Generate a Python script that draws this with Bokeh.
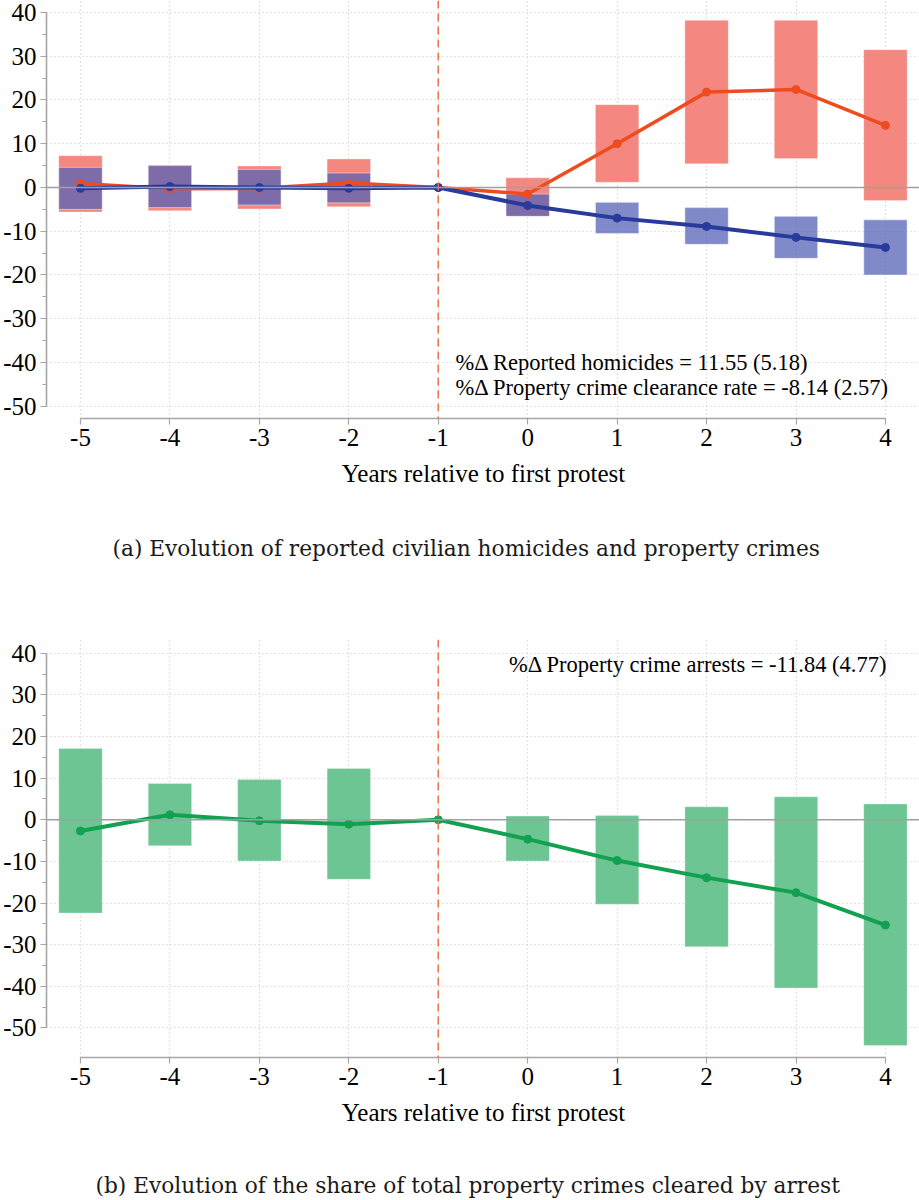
import numpy as np
from bokeh.plotting import figure
from bokeh.models import (ColumnDataSource, Span, Label, SingleIntervalTicker,
                          FixedTicker, Range1d, CustomJSTickFormatter)
from bokeh.layouts import column
from bokeh.embed import file_html
from bokeh.resources import INLINE

nan = float("nan")

# ---- data ----
years = [-5, -4, -3, -2, -1, 0, 1, 2, 3, 4]

hom = [0.9, -0.3, -0.2, 1.0, 0.0, -1.5, 10.0, 21.8, 22.4, 14.2]
hom_lo = [-5.6, -5.3, -4.9, -4.4, nan, -6.5, 1.2, 5.4, 6.6, -3.0]
hom_hi = [7.25, 5.1, 4.9, 6.5, nan, 2.2, 18.9, 38.2, 38.2, 31.5]

clr = [-0.2, 0.2, 0.0, -0.2, 0.0, -4.1, -7.0, -8.9, -11.4, -13.7]
clr_lo = [-5.0, -4.6, -4.0, -3.5, nan, -6.6, -10.5, -13.0, -16.2, -20.0]
clr_hi = [4.6, 5.0, 4.1, 3.3, nan, -1.5, -3.4, -4.6, -6.6, -7.4]

arr = [-2.7, 1.2, -0.25, -1.05, 0.0, -4.65, -9.8, -13.9, -17.5, -25.3]
arr_lo = [-22.4, -6.25, -9.9, -14.3, nan, -9.9, -20.3, -30.5, -40.4, -54.2]
arr_hi = [17.1, 8.7, 9.7, 12.3, nan, 0.9, 1.0, 3.1, 5.5, 3.8]

x_label = "Years relative to first protest"
caption_a = "(a) Evolution of reported civilian homicides and property crimes"
caption_b = "(b) Evolution of the share of total property crimes cleared by arrest"
note_a1 = "%\u0394 Reported homicides = 11.55 (5.18)"
note_a2 = "%\u0394 Property crime clearance rate = -8.14 (2.57)"
note_b = "%\u0394 Property crime arrests = -11.84 (4.77)"

FONT = "Liberation Serif"
CAP_FONT = "DejaVu Serif"
AX = "#a6a6a6"
FMT = CustomJSTickFormatter(code="return String(tick);")


def base_figure(y_start, y_end, frame_h, top_border):
    p = figure(frame_width=874, frame_height=frame_h, output_backend="svg",
               toolbar_location=None, x_range=Range1d(-5.380, 4.392),
               y_range=Range1d(y_start, y_end),
               min_border_left=45, min_border_right=0, min_border_top=top_border,
               min_border_bottom=80)
    p.outline_line_color = None
    p.background_fill_color = "white"
    p.border_fill_color = "white"

    p.xaxis.ticker = FixedTicker(ticks=years, minor_ticks=[])
    p.yaxis.ticker = SingleIntervalTicker(interval=10, num_minor_ticks=2)
    p.xaxis.formatter = FMT
    p.yaxis.formatter = FMT
    p.xaxis.bounds = (-5, 4)
    p.yaxis.bounds = (-50, 40)
    for ax in (p.xaxis, p.yaxis):
        ax.axis_line_color = AX
        ax.axis_line_width = 1.6
        ax.major_tick_line_color = AX
        ax.major_tick_line_width = 1.2
        ax.major_tick_out = 6
        ax.major_tick_in = 0
        ax.minor_tick_line_color = AX
        ax.minor_tick_line_width = 1.1
        ax.minor_tick_out = 4
        ax.minor_tick_in = 0
        ax.major_label_text_font = FONT
        ax.major_label_text_font_size = "25px"
        ax.major_label_text_color = "black"
    p.yaxis.major_label_standoff = 4
    p.xaxis.major_label_standoff = 4
    p.xaxis.axis_label = x_label
    p.xaxis.axis_label_text_font = FONT
    p.xaxis.axis_label_text_font_style = "normal"
    p.xaxis.axis_label_text_font_size = "25px"
    p.xaxis.axis_label_text_color = "black"
    p.xaxis.axis_label_standoff = 11

    p.xgrid.ticker = FixedTicker(ticks=years)
    p.ygrid.ticker = SingleIntervalTicker(interval=10)
    for g in (p.xgrid, p.ygrid):
        g.grid_line_color = "#c8c8c8"
        g.grid_line_dash = "1 3"
        g.grid_line_width = 1.2

    p.add_layout(Span(location=0, dimension="width", line_color="#a0a0a0", line_width=1.5))
    p.add_layout(Span(location=-1, dimension="height", line_color="#e8744c",
                      line_width=1.5, line_dash="8 5"))
    return p


def caption_figure(text, h, cap_x, cap_y):
    # frame aligned with the plots above (45 px left border); x in page pixels
    c = figure(frame_width=874, frame_height=h, output_backend="svg", toolbar_location=None,
               x_range=Range1d(45, 919), y_range=Range1d(0, h),
               x_axis_type=None, y_axis_type=None,
               min_border_left=45, min_border_right=0, min_border_top=0, min_border_bottom=0)
    c.outline_line_color = None
    c.xgrid.visible = False
    c.ygrid.visible = False
    c.add_layout(Label(x=cap_x, y=cap_y, text=text, text_font=CAP_FONT,
                       text_font_size="21.7px", text_baseline="middle",
                       text_align="left", text_color="#1a1a1a"))
    return c


# ---- panel (a) ----
pa = base_figure(-52.8, 42.74, 418, 0)
src_a = ColumnDataSource(dict(x=years, hom=hom, hom_lo=hom_lo, hom_hi=hom_hi,
                              clr=clr, clr_lo=clr_lo, clr_hi=clr_hi))
pa.vbar(x="x", width=0.485, bottom="hom_lo", top="hom_hi", source=src_a,
        fill_color="#f4877f", line_color="white", line_alpha=0.3)
pa.vbar(x="x", width=0.485, bottom="clr_lo", top="clr_hi", source=src_a,
        fill_color="#5563b5", fill_alpha=0.75, line_color="white", line_alpha=0.45)
pa.line("x", "hom", source=src_a, line_color="#ee4b1f", line_width=3.5)
pa.scatter("x", "hom", source=src_a, size=8, fill_color="#ee4b1f", line_color="#ee4b1f")
pa.line("x", "clr", source=src_a, line_color="#283a9c", line_width=4)
pa.scatter("x", "clr", source=src_a, size=8, fill_color="#283a9c", line_color="#283a9c")

pa.add_layout(Label(x=-0.807, y=-40.0, text=note_a1, text_font=FONT,
                    text_font_size="22.5px", text_baseline="middle", text_color="black"))
pa.add_layout(Label(x=-0.807, y=-45.7, text=note_a2, text_font=FONT,
                    text_font_size="22.5px", text_baseline="middle", text_color="black"))

cap_a = caption_figure(caption_a, 100, 111, 50)

# ---- panel (b) ----
pb = base_figure(-57.1, 43.3, 418, 41)
src_b = ColumnDataSource(dict(x=years, arr=arr, arr_lo=arr_lo, arr_hi=arr_hi))
pb.vbar(x="x", width=0.485, bottom="arr_lo", top="arr_hi", source=src_b,
        fill_color="#6dc594", line_color="white", line_alpha=0.3)
pb.line("x", "arr", source=src_b, line_color="#12a150", line_width=4)
pb.scatter("x", "arr", source=src_b, size=8, fill_color="#12a150", line_color="#12a150")
pb.add_layout(Label(x=-0.21, y=37.3, text=note_b, text_font=FONT,
                    text_font_size="22.5px", text_baseline="middle", text_color="black"))

cap_b = caption_figure(caption_b, 61, 94, 13)

layout = column(pa, cap_a, pb, cap_b, spacing=0)
open("out.html", "w").write(file_html(layout, INLINE))
